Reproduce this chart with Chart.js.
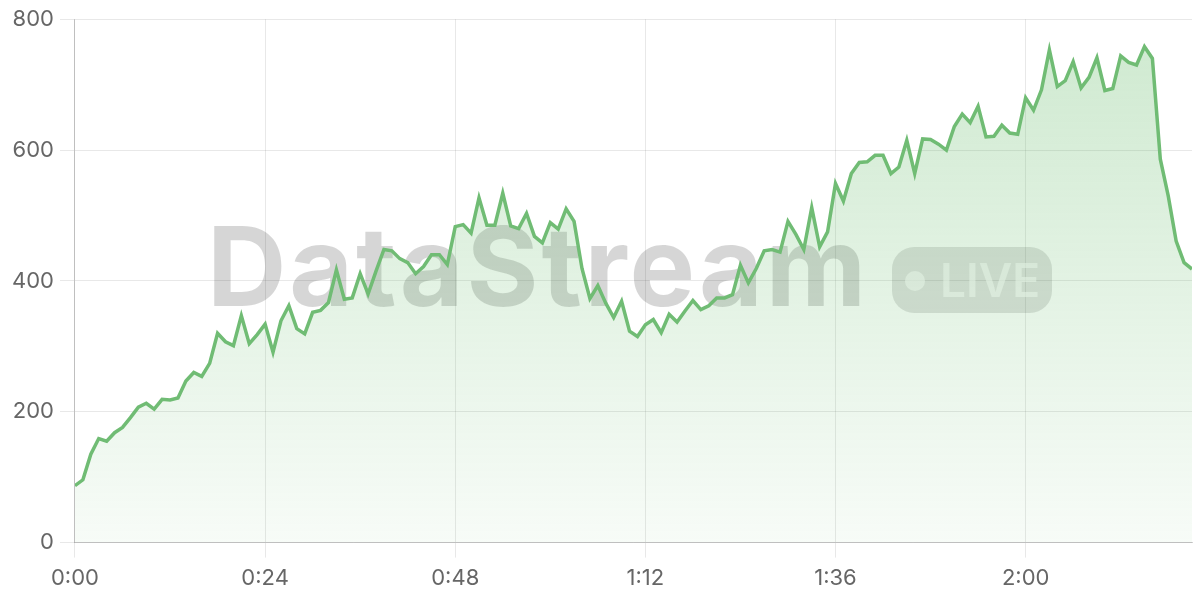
<!DOCTYPE html>
<html>
<head>
<meta charset="utf-8">
<script src="https://cdn.jsdelivr.net/npm/chart.js@4.4.1/dist/chart.umd.min.js"></script>
<style>
  html, body { margin: 0; padding: 0; background: #ffffff; }
  #wrap { width: 1200px; height: 600px; position: relative; }
</style>
</head>
<body>
<div id="wrap"><canvas id="c" width="1200" height="600"></canvas></div>
<script>
// Minutes since start (one sample per minute)
const minutes = [];
for (let m = 0; m <= 141; m++) minutes.push(m);

// Throughput values
const values = [
  87, 96, 135, 159, 155, 168, 176, 191, 207, 213,
  204, 219, 218, 221, 247, 260, 254, 274, 320, 307,
  301, 347, 304, 318, 334, 291, 339, 362, 327, 319,
  352, 355, 367, 417, 372, 374, 411, 380, 415, 448,
  446, 434, 428, 411, 422, 440, 440, 425, 483, 486,
  473, 527, 485, 485, 534, 484, 480, 503, 468, 458,
  489, 479, 510, 491, 419, 373, 393, 366, 344, 369,
  323, 315, 333, 341, 321, 349, 337, 354, 370, 356,
  362, 374, 374, 379, 424, 397, 419, 446, 448, 444,
  491, 471, 448, 512, 452, 475, 549, 522, 564, 581,
  582, 592, 592, 564, 574, 615, 564, 617, 616, 609,
  600, 636, 655, 642, 667, 620, 621, 638, 626, 624,
  680, 661, 692, 753, 697, 706, 735, 695, 711, 741,
  691, 694, 744, 734, 730, 758, 740, 586, 530, 461,
  428, 418
];

const yTicks = [0, 200, 400, 600, 800];
const xTickMinutes = [0, 24, 48, 72, 96, 120];
const watermarkTitle = 'DataStream';
const watermarkBadge = 'LIVE';

function fmtTime(m) {
  const h = Math.floor(m / 60);
  const mm = Math.round(m % 60);
  return h + ':' + (mm < 10 ? '0' : '') + mm;
}

const points = minutes.map((m, i) => ({ x: m, y: values[i] }));

const watermarkPlugin = {
  id: 'watermark',
  beforeDatasetsDraw(chart) {
    const { ctx } = chart;
    ctx.save();
    // Title
    ctx.font = 'bold 110px Inter, "Liberation Sans", sans-serif';
    const targetW = 662;
    const w = ctx.measureText(watermarkTitle).width;
    const ls = Math.max(-4, (targetW - w) / (watermarkTitle.length));
    ctx.letterSpacing = ls + 'px';
    ctx.fillStyle = 'rgba(0,0,0,0.16)';
    ctx.textBaseline = 'alphabetic';
    ctx.textAlign = 'left';
    ctx.fillText(watermarkTitle, 207, 306);
    ctx.letterSpacing = '0px';
    // Badge
    const bx = 892, by = 247, bw = 160, bh = 66, r = 22;
    ctx.beginPath();
    ctx.moveTo(bx + r, by);
    ctx.lineTo(bx + bw - r, by);
    ctx.arcTo(bx + bw, by, bx + bw, by + r, r);
    ctx.lineTo(bx + bw, by + bh - r);
    ctx.arcTo(bx + bw, by + bh, bx + bw - r, by + bh, r);
    ctx.lineTo(bx + r, by + bh);
    ctx.arcTo(bx, by + bh, bx, by + bh - r, r);
    ctx.lineTo(bx, by + r);
    ctx.arcTo(bx, by, bx + r, by, r);
    ctx.closePath();
    ctx.fillStyle = 'rgba(0,0,0,0.12)';
    ctx.fill();
    ctx.fillStyle = 'rgba(255,255,255,0.6)';
    ctx.beginPath();
    ctx.arc(915, 281, 10, 0, Math.PI * 2);
    ctx.fill();
    ctx.font = '600 46px Inter, "Liberation Sans", sans-serif';
    ctx.textBaseline = 'alphabetic';
    ctx.fillText(watermarkBadge, 940, 297);
    ctx.restore();
  }
};

const ctx = document.getElementById('c').getContext('2d');
new Chart(ctx, {
  type: 'line',
  data: {
    datasets: [{
      data: points,
      borderColor: '#70bc74',
      borderWidth: 3.5,
      pointRadius: 0,
      tension: 0,
      fill: 'start',
      backgroundColor: (c) => {
        const area = c.chart.chartArea;
        if (!area) return 'rgba(102,187,106,0.2)';
        const g = c.chart.ctx.createLinearGradient(0, area.top, 0, area.bottom);
        g.addColorStop(0, 'rgba(102,187,106,0.32)');
        g.addColorStop(1, 'rgba(102,187,106,0.05)');
        return g;
      }
    }]
  },
  options: {
    responsive: false,
    animation: false,
    devicePixelRatio: 1,
    layout: { padding: { top: 7, right: 8, left: 6, bottom: 0 } },
    plugins: { legend: { display: false }, tooltip: { enabled: false } },
    scales: {
      x: {
        type: 'linear',
        min: 0,
        max: 141,
        afterBuildTicks: (scale) => { scale.ticks = xTickMinutes.map(v => ({ value: v })); },
        ticks: {
          callback: (v) => fmtTime(v),
          color: '#666666',
          font: { family: 'Inter', size: 22 },
          padding: 8,
          maxRotation: 0,
          autoSkip: false
        },
        grid: { color: 'rgba(0,0,0,0.09)', tickLength: 15 },
        border: { color: 'rgba(0,0,0,0.18)' }
      },
      y: {
        min: 0,
        max: 800,
        afterBuildTicks: (scale) => { scale.ticks = yTicks.map(v => ({ value: v })); },
        ticks: {
          color: '#666666',
          font: { family: 'Inter', size: 22 },
          padding: 6
        },
        grid: { color: 'rgba(0,0,0,0.09)', tickLength: 15 },
        border: { color: 'rgba(0,0,0,0.18)' }
      }
    }
  },
  plugins: [watermarkPlugin]
});
</script>
</body>
</html>
